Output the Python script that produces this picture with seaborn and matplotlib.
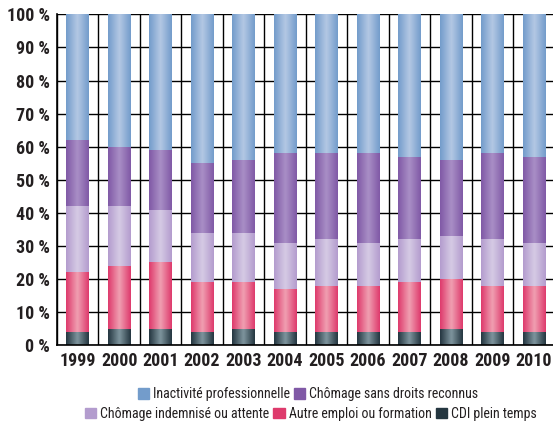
import numpy as np
import pandas as pd
import matplotlib
matplotlib.use("Agg")
import matplotlib.pyplot as plt
import seaborn as sns
from matplotlib import font_manager as fm
from matplotlib.colors import LinearSegmentedColormap
from matplotlib.patches import Patch

# ---- Data ----
years = ["1999", "2000", "2001", "2002", "2003", "2004",
         "2005", "2006", "2007", "2008", "2009", "2010"]
cdi = [4, 5, 5, 4, 5, 4, 4, 4, 4, 5, 4, 4]
autre_emploi = [18, 19, 20, 15, 14, 13, 14, 14, 15, 15, 14, 14]
chomage_indemnise = [20, 18, 16, 15, 15, 14, 14, 13, 13, 13, 14, 13]
chomage_sans_droits = [20, 18, 18, 21, 22, 27, 26, 27, 25, 23, 26, 26]
inactivite = [38, 40, 41, 45, 44, 42, 42, 42, 43, 44, 42, 43]

labels = ["CDI plein temps", "Autre emploi ou formation",
          "Chômage indemnisé ou attente", "Chômage sans droits reconnus",
          "Inactivité professionnelle"]
series = [cdi, autre_emploi, chomage_indemnise, chomage_sans_droits, inactivite]

# edge colour, centre colour of the shaded bars
colors = {
    "CDI plein temps": ("#243640", "#7f959e"),
    "Autre emploi ou formation": ("#de3a6c", "#f0a0b2"),
    "Chômage indemnisé ou attente": ("#b39cce", "#d6cbe5"),
    "Chômage sans droits reconnus": ("#8059a6", "#a98fc6"),
    "Inactivité professionnelle": ("#739ccb", "#b4c8e4"),
}
legend_colors = {k: v[0] for k, v in colors.items()}

df = pd.DataFrame(dict(zip(labels, series)), index=years)
cum = df.cumsum(axis=1)

# ---- Style: pick a condensed family if one is installed ----
installed = {f.name for f in fm.fontManager.ttflist}
wanted = ["Roboto Condensed", "Archivo Narrow", "PT Sans Narrow",
          "Fira Sans Condensed", "Barlow Condensed", "Liberation Sans Narrow",
          "Open Sans Condensed", "Liberation Sans"]
font = next((f for f in wanted if f in installed), "DejaVu Sans")

sns.set_style("white")
plt.rcParams["font.family"] = [font, "DejaVu Sans"]

fig = plt.figure(figsize=(5.53, 4.23), dpi=100)
ax = fig.add_axes([0.103, 0.184, 0.9, 0.782])

# grid first (behind bars)
for v in range(0, 101, 10):
    ax.axhline(v, color="black", lw=1.0, zorder=0)
for x in np.arange(-0.5, len(years) + 0.5, 1):
    ax.axvline(x, color="black", lw=1.0, zorder=0)

# stacked bars: draw cumulative totals, tallest first
for lab in labels[::-1]:
    plot_df = pd.DataFrame({"year": years, "value": cum[lab].values})
    n_before = len(ax.patches)
    sns.barplot(data=plot_df, x="year", y="value", order=years,
                color=colors[lab][0], width=0.55, ax=ax, zorder=2,
                linewidth=0, saturation=1)
    cmap = LinearSegmentedColormap.from_list(
        lab, [colors[lab][0], colors[lab][1], colors[lab][0]])
    grad = np.linspace(0, 1, 64).reshape(1, -1)
    for p in ax.patches[n_before:]:
        x0, w = p.get_x(), p.get_width()
        h = p.get_height()
        im = ax.imshow(grad, cmap=cmap, aspect="auto",
                       extent=[x0, x0 + w, 0, h], zorder=2.5,
                       interpolation="bicubic")
        im.set_clip_path(p)

ax.set_xlim(-0.5, len(years) - 0.5)
ax.set_ylim(0, 100)
ax.set_yticks(range(0, 101, 10))
ax.set_yticklabels([f"{v} %" for v in range(0, 101, 10)])
ax.set_xlabel("")
ax.set_ylabel("")
ax.tick_params(axis="both", length=0, labelsize=13, colors="#231f20", pad=5)
for t in ax.get_xticklabels() + ax.get_yticklabels():
    t.set_fontweight("bold")
for s in ["top", "right"]:
    ax.spines[s].set_visible(False)
for s in ["left", "bottom"]:
    ax.spines[s].set_color("black")
    ax.spines[s].set_linewidth(1.2)
    ax.spines[s].set_zorder(3)

# legends in two centred rows
row1 = ["Inactivité professionnelle", "Chômage sans droits reconnus"]
row2 = ["Chômage indemnisé ou attente", "Autre emploi ou formation", "CDI plein temps"]
leg_kw = dict(frameon=False, fontsize=10, handlelength=0.8, handleheight=0.8,
              handletextpad=0.3, columnspacing=0.3, loc="center",
              labelcolor="#231f20")
h1 = [Patch(color=legend_colors[k], label=k) for k in row1]
h2 = [Patch(color=legend_colors[k], label=k) for k in row2]
fig.legend(handles=h1, ncol=2, bbox_to_anchor=(0.557, 0.068), **leg_kw)
fig.legend(handles=h2, ncol=3, bbox_to_anchor=(0.562, 0.022), **leg_kw)

fig.savefig("out.png", dpi=100)
